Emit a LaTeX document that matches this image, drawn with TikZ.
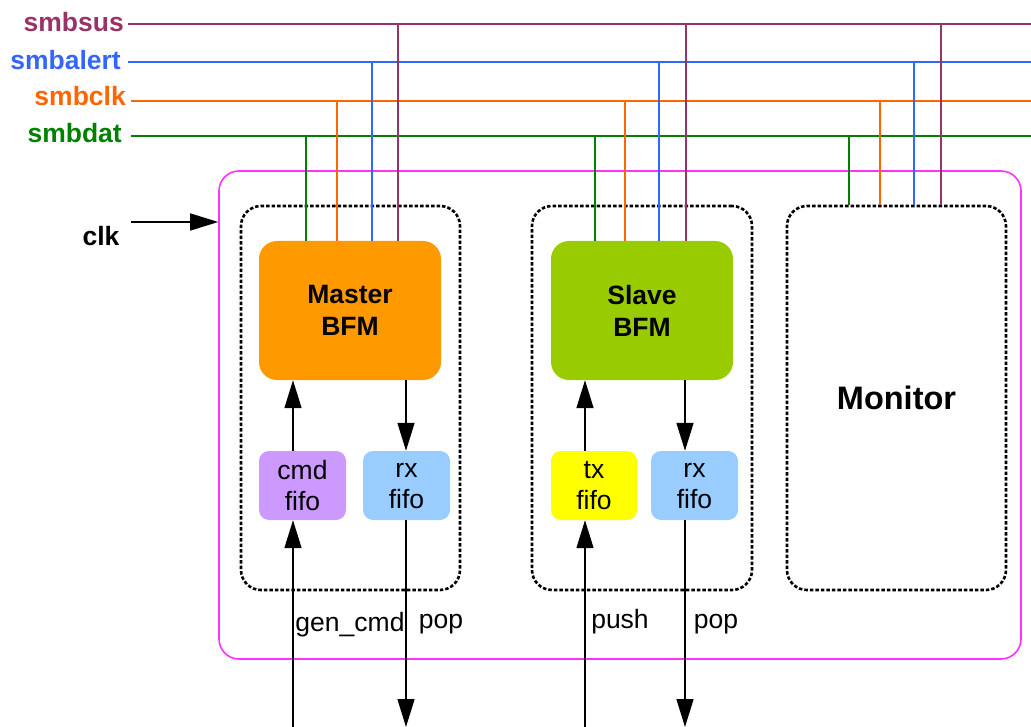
\documentclass[tikz,border=0pt]{standalone}
\usepackage{fontspec}
\setmainfont{Liberation Sans}
\usetikzlibrary{arrows.meta}
\definecolor{csus}{HTML}{993366}
\definecolor{calert}{HTML}{3366FF}
\definecolor{cclk}{HTML}{FF6600}
\definecolor{cdat}{HTML}{008000}
\definecolor{cpink}{HTML}{FF33FF}
\definecolor{corange}{HTML}{FF9900}
\definecolor{cgreen}{HTML}{99CC00}
\definecolor{cpurple}{HTML}{CC99FF}
\definecolor{cblue}{HTML}{99CCFF}
\definecolor{cyellow}{HTML}{FFFF00}
\begin{document}
\begin{tikzpicture}[x=1pt,y=-1pt,
  buslbl/.style={anchor=base east,font=\fontsize{26.5}{30}\selectfont\bfseries,inner sep=0pt},
  busline/.style={line width=2.8pt},
  dbox/.style={draw=black,line width=2.6pt,dash pattern=on 3.5pt off 2pt,rounded corners=20pt},
  bfm/.style={rounded corners=18pt,align=center,font=\fontsize{26.5}{32}\selectfont\bfseries,text=black},
  fifo/.style={rounded corners=10pt,align=center,font=\fontsize{26.5}{31}\selectfont,text=black},
  sig/.style={line width=1.5pt,-{Triangle[length=28pt,width=17pt]}},
  lbl/.style={font=\fontsize{26.5}{30}\selectfont,inner sep=0pt,anchor=base}
]
\useasboundingbox (0,0) rectangle (1031,727);
% bus labels
\node[buslbl,text=csus] (lsus) at (124,32) {smbsus};
\node[buslbl,text=calert] (lalert) at (121,70) {smbalert};
\node[buslbl,text=cclk] (lclk) at (126,106) {smbclk};
\node[buslbl,text=cdat] (ldat) at (122,143) {smbdat};
\coordinate (ssus) at (128,24);
\coordinate (salert) at (128,62);
\coordinate (sclk) at (131,101);
\coordinate (sdat) at (131,136);
\coordinate (esus) at (1031,24);
\coordinate (ealert) at (1031,62);
\coordinate (eclk) at (1031,101);
\coordinate (edat) at (1031,136);
% outer box
\node[draw=cpink,line width=1.6pt,rounded corners=20pt,minimum width=802pt,minimum height=488pt,inner sep=0pt] (outer) at (620,415) {};
% dashed boxes
\node[dbox,minimum width=219pt,minimum height=384pt,inner sep=0pt] (mbox) at (350.5,398) {};
\node[dbox,minimum width=220pt,minimum height=384pt,inner sep=0pt] (sbox) at (642,398) {};
\node[dbox,minimum width=219pt,minimum height=384pt,inner sep=0pt,font=\fontsize{32.5}{36}\selectfont\bfseries] (mon) at (896.5,398) {Monitor};
% BFMs
\node[bfm,fill=corange,minimum width=182pt,minimum height=139pt,inner sep=0pt] (master) at (350,310.5) {Master\\BFM};
\node[bfm,fill=cgreen,minimum width=182pt,minimum height=139pt,inner sep=0pt] (slave) at (642,310.5) {Slave\\BFM};
% fifos
\node[fifo,fill=cpurple,minimum width=87pt,minimum height=69pt,inner sep=0pt] (cmd) at (302.5,485.5) {cmd\\fifo};
\node[fifo,fill=cblue,minimum width=87pt,minimum height=69pt,inner sep=0pt] (mrx) at (406.5,485.5) {rx\\fifo};
\node[fifo,fill=cyellow,minimum width=86pt,minimum height=69pt,inner sep=0pt] (tx) at (594,485.5) {tx\\fifo};
\node[fifo,fill=cblue,minimum width=87pt,minimum height=69pt,inner sep=0pt] (srx) at (694.5,485.5) {rx\\fifo};
% bus lines
\draw[busline,csus] (ssus) -- (esus);
\draw[busline,calert] (salert) -- (ealert);
\draw[busline,cclk] (sclk) -- (eclk);
\draw[busline,cdat] (sdat) -- (edat);
% taps
\foreach \x/\t in {306/master,595/slave,849/mon}{
  \draw[busline,cdat] (\x,136) -- (\x,0 |- \t.north);}
\foreach \x/\t in {337/master,625/slave,880/mon}{
  \draw[busline,cclk] (\x,101) -- (\x,0 |- \t.north);}
\foreach \x/\t in {372/master,659/slave,914/mon}{
  \draw[busline,calert] (\x,62) -- (\x,0 |- \t.north);}
\foreach \x/\t in {398/master,686/slave,941/mon}{
  \draw[busline,csus] (\x,24) -- (\x,0 |- \t.north);}
% clk
\node[font=\fontsize{26.5}{30}\selectfont\bfseries,inner sep=0pt,anchor=base] (lclkin) at (101,246) {clk};
\coordinate (clkstart) at (131,222);
\draw[sig] (clkstart) -- (clkstart -| outer.west);
% fifo arrows
\coordinate (gbot) at (293,727);
\coordinate (pbot) at (406,727);
\coordinate (ubot) at (585,727);
\coordinate (qbot) at (685,727);
\draw[sig] (cmd.north -| gbot) -- (master.south -| gbot);
\draw[sig] (master.south -| pbot) -- (mrx.north -| pbot);
\draw[sig] (gbot) -- (cmd.south -| gbot);
\draw[sig] (mrx.south -| pbot) -- (pbot);
\draw[sig] (tx.north -| ubot) -- (slave.south -| ubot);
\draw[sig] (slave.south -| qbot) -- (srx.north -| qbot);
\draw[sig] (ubot) -- (tx.south -| ubot);
\draw[sig] (srx.south -| qbot) -- (qbot);
% labels
\node[lbl] (lgen) at (350,631) {gen\_cmd};
\node[lbl] (lpop1) at (441,628) {pop};
\node[lbl] (lpush) at (620,628) {push};
\node[lbl] (lpop2) at (716,628) {pop};
\end{tikzpicture}
\end{document}
